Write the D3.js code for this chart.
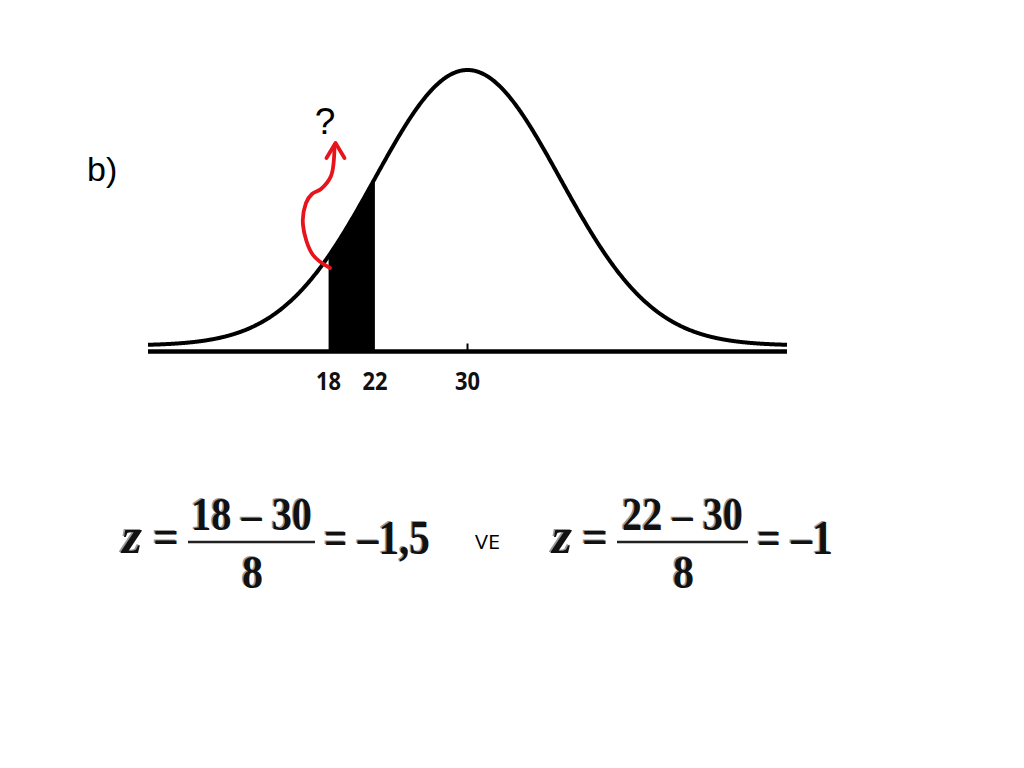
<!DOCTYPE html>
<html>
<head>
<meta charset="utf-8">
<script src="https://cdn.jsdelivr.net/npm/d3@7"></script>
<style>
  html, body { margin: 0; padding: 0; background: #fff; }
  svg { display: block; }
</style>
</head>
<body>
<svg id="chart" width="1024" height="768"></svg>
<script>
// ---- data ----
const mean = 30;
const sd = 8;
const shadeBounds = [18, 22];
const tickValues = [18, 22, 30];
const majorTick = [30];
const formulaValues = [18, 22];
const partLabel = "b)";
const questionLabel = "?";
const joinWord = "VE";

// ---- setup ----
const svg = d3.select("#chart");
const density = v => Math.exp(-0.5 * Math.pow((v - mean) / sd, 2)) / (sd * Math.sqrt(2 * Math.PI));

const x = d3.scaleLinear().domain([mean - 27.6, mean + 27.6]).range([148, 787]);
const y = d3.scaleLinear().domain([0, density(mean)]).range([345.5, 70]);
const axisY = 351.5;

const curvePts = d3.range(x.domain()[0], x.domain()[1] + 0.001, 0.05).map(v => [v, density(v)]);
const shadePts = d3.range(shadeBounds[0], shadeBounds[1] + 0.001, 0.05).map(v => [v, density(v)]);

// shaded area
svg.append("path")
  .datum(shadePts)
  .attr("fill", "#000")
  .attr("d", d3.area().x(d => x(d[0])).y0(axisY).y1(d => y(d[1])));

// axis line
svg.append("line")
  .attr("x1", x.range()[0]).attr("x2", x.range()[1])
  .attr("y1", axisY).attr("y2", axisY)
  .attr("stroke", "#000").attr("stroke-width", 4.5);

// tick at mean
svg.selectAll(".tk").data(majorTick).enter().append("line")
  .attr("x1", d => x(d)).attr("x2", d => x(d))
  .attr("y1", axisY - 8).attr("y2", axisY)
  .attr("stroke", "#000").attr("stroke-width", 2);

// curve
svg.append("path")
  .datum(curvePts)
  .attr("fill", "none")
  .attr("stroke", "#000")
  .attr("stroke-width", 4)
  .attr("stroke-linejoin", "round")
  .attr("d", d3.line().x(d => x(d[0])).y(d => y(d[1])).curve(d3.curveBasis));

// tick labels
svg.selectAll(".tl").data(tickValues).enter().append("text")
  .attr("x", d => x(d)).attr("y", 390)
  .attr("text-anchor", "middle")
  .attr("font-family", "'Open Sans', sans-serif")
  .attr("font-weight", 700)
  .attr("font-size", 25)
  .attr("textLength", 25)
  .attr("lengthAdjust", "spacingAndGlyphs")
  .attr("fill", "#111")
  .text(d => d);

// part label
svg.append("text")
  .attr("x", 87).attr("y", 181)
  .attr("font-family", "'Liberation Sans', Arial, sans-serif")
  .attr("font-size", 34)
  .attr("fill", "#000")
  .text(partLabel);

// question mark
svg.append("text")
  .attr("x", 325).attr("y", 134)
  .attr("text-anchor", "middle")
  .attr("font-family", "'Liberation Sans', Arial, sans-serif")
  .attr("font-size", 37)
  .attr("fill", "#000")
  .text(questionLabel);

// red arrow annotation
const arrowPts = [[330, 268], [313, 255], [303, 225], [306, 203], [312, 194], [321, 189], [331, 176], [334.5, 146]];
svg.append("path")
  .attr("d", d3.line().curve(d3.curveCatmullRom)(arrowPts))
  .attr("fill", "none").attr("stroke", "#e8141b")
  .attr("stroke-width", 3.8).attr("stroke-linecap", "round");
svg.append("path")
  .attr("d", "M326.5,158 L335.5,143 L344.5,158")
  .attr("fill", "none").attr("stroke", "#e8141b")
  .attr("stroke-width", 3.8).attr("stroke-linecap", "round").attr("stroke-linejoin", "round");

// ---- formulas ----
const fmt = v => {
  const s = String(Math.abs(v)).replace(".", ",");
  return (v < 0 ? "\u2013" : "") + s;
};
const layout = [
  { zx: 122, eqx: 153, barL: 188, barR: 315, restX: 324, restW: 106 },
  { zx: 552, eqx: 582, barL: 617, barR: 748, restX: 757, restW: 76 }
];
const serif = "'Liberation Serif', 'Times New Roman', serif";

function shadowText(g, xp, yp, txt, size, italic, anchor, len) {
  [["#9a9a9a", -1.4, -0.9], ["#111", 0, 0]].forEach(([c, dx, dy]) => {
    const t = g.append("text")
      .attr("x", xp + dx).attr("y", yp + dy)
      .attr("text-anchor", anchor || "start")
      .attr("font-family", serif)
      .attr("font-weight", "bold")
      .attr("font-style", italic ? "italic" : "normal")
      .attr("font-size", size)
      .attr("fill", c)
      .text(txt);
    if (len) t.attr("textLength", len).attr("lengthAdjust", "spacingAndGlyphs");
  });
}

formulaValues.forEach((v, i) => {
  const L = layout[i];
  const g = svg.append("g");
  const zval = (v - mean) / sd;
  const mid = (L.barL + L.barR) / 2;
  shadowText(g, L.zx, 553, "z", 50, true, "start", 20);
  shadowText(g, L.eqx, 553, "=", 48, false, "start", 26);
  shadowText(g, mid, 530, v + " \u2013 " + mean, 47, false, "middle", 121);
  g.append("line")
    .attr("x1", L.barL).attr("x2", L.barR)
    .attr("y1", 542).attr("y2", 542)
    .attr("stroke", "#222").attr("stroke-width", 2.5);
  shadowText(g, mid + 1, 588, String(sd), 47, false, "middle", 21);
  shadowText(g, L.restX, 554, "= " + fmt(zval), 48, false, "start", L.restW);
});

svg.append("text")
  .attr("x", 475).attr("y", 549)
  .attr("font-family", "'Open Sans', sans-serif")
  .attr("font-size", 20)
  .attr("textLength", 25)
  .attr("lengthAdjust", "spacingAndGlyphs")
  .attr("fill", "#000")
  .text(joinWord);
</script>
</body>
</html>
